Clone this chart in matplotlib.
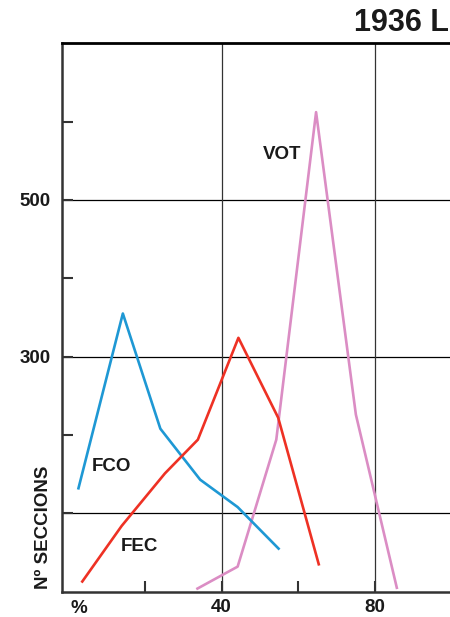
import matplotlib.pyplot as plt

plt.rcParams['font.family'] = ['Liberation Sans', 'DejaVu Sans']
plt.rcParams['font.weight'] = 'bold'

# percentage (x) vs number of sections (y)
fco_x = [2.6, 14.2, 24.0, 34.4, 44.2, 54.9]
fco_y = [132, 355, 208, 143, 108, 55]

fec_x = [3.6, 13.9, 25.2, 33.8, 44.4, 54.8, 65.4]
fec_y = [13, 84, 151, 194, 324, 222, 35]

vot_x = [33.7, 44.2, 54.3, 64.7, 75.1, 85.8]
vot_y = [4, 32, 194, 612, 226, 5]

series_labels = ['FCO', 'FEC', 'VOT']
label_pos = [(11.2, 160), (18.5, 58), (55.8, 558)]

c_blue = '#1e98d4'
c_red = '#ee3124'
c_pink = '#db8dc4'

fig = plt.figure(figsize=(4.5, 6.17), dpi=100)
ax = fig.add_axes([0.1378, 0.041, 0.8622, 0.889])

ax.set_xlim(-1.7, 99.7)
ax.set_ylim(0, 700)

for v in [100, 300, 500]:
    ax.axhline(v, color='black', lw=0.9, zorder=1)
for v in [40, 80]:
    ax.axvline(v, color='#333333', lw=0.9, zorder=1)

ax.plot(fco_x, fco_y, color=c_blue, lw=1.9, zorder=3)
ax.plot(fec_x, fec_y, color=c_red, lw=1.9, zorder=3)
ax.plot(vot_x, vot_y, color=c_pink, lw=1.9, zorder=2)

for lab, (lx, ly) in zip(series_labels, label_pos):
    ax.text(lx, ly, lab, fontsize=13.5, fontweight='bold', color='#1a1a1a',
            ha='center', va='center')

ax.spines['right'].set_visible(False)
ax.spines['top'].set_linewidth(2.0)
ax.spines['top'].set_color('black')
ax.spines['left'].set_linewidth(1.8)
ax.spines['left'].set_color('#333333')
ax.spines['bottom'].set_linewidth(1.8)
ax.spines['bottom'].set_color('#333333')

ax.set_yticks([100, 200, 300, 400, 500, 600])
ax.set_yticklabels(['', '', '300', '', '500', ''])
ax.set_xticks([20, 40, 60, 80])
ax.set_xticklabels(['', '40', '', '80'])
ax.tick_params(axis='both', direction='in', length=8, width=1.5,
               color='#333333', labelsize=13.5, pad=5)
ax.tick_params(axis='y', pad=8)
for t in ax.get_xticklabels() + ax.get_yticklabels():
    t.set_fontweight('bold')
    t.set_color('#1a1a1a')

ax.text(2.8, -21, '%', fontsize=13.5, fontweight='bold', color='#1a1a1a',
        ha='center', va='center')
ax.set_ylabel('Nº SECCIONS', fontsize=13.5, fontweight='bold', color='#1a1a1a')
ax.yaxis.set_label_coords(-0.026, 0.118)

fig.text(0.997, 0.962, '1936 L', fontsize=22, fontweight='bold',
         color='#1a1a1a', ha='right', va='center')

fig.savefig('out.png', dpi=100)
